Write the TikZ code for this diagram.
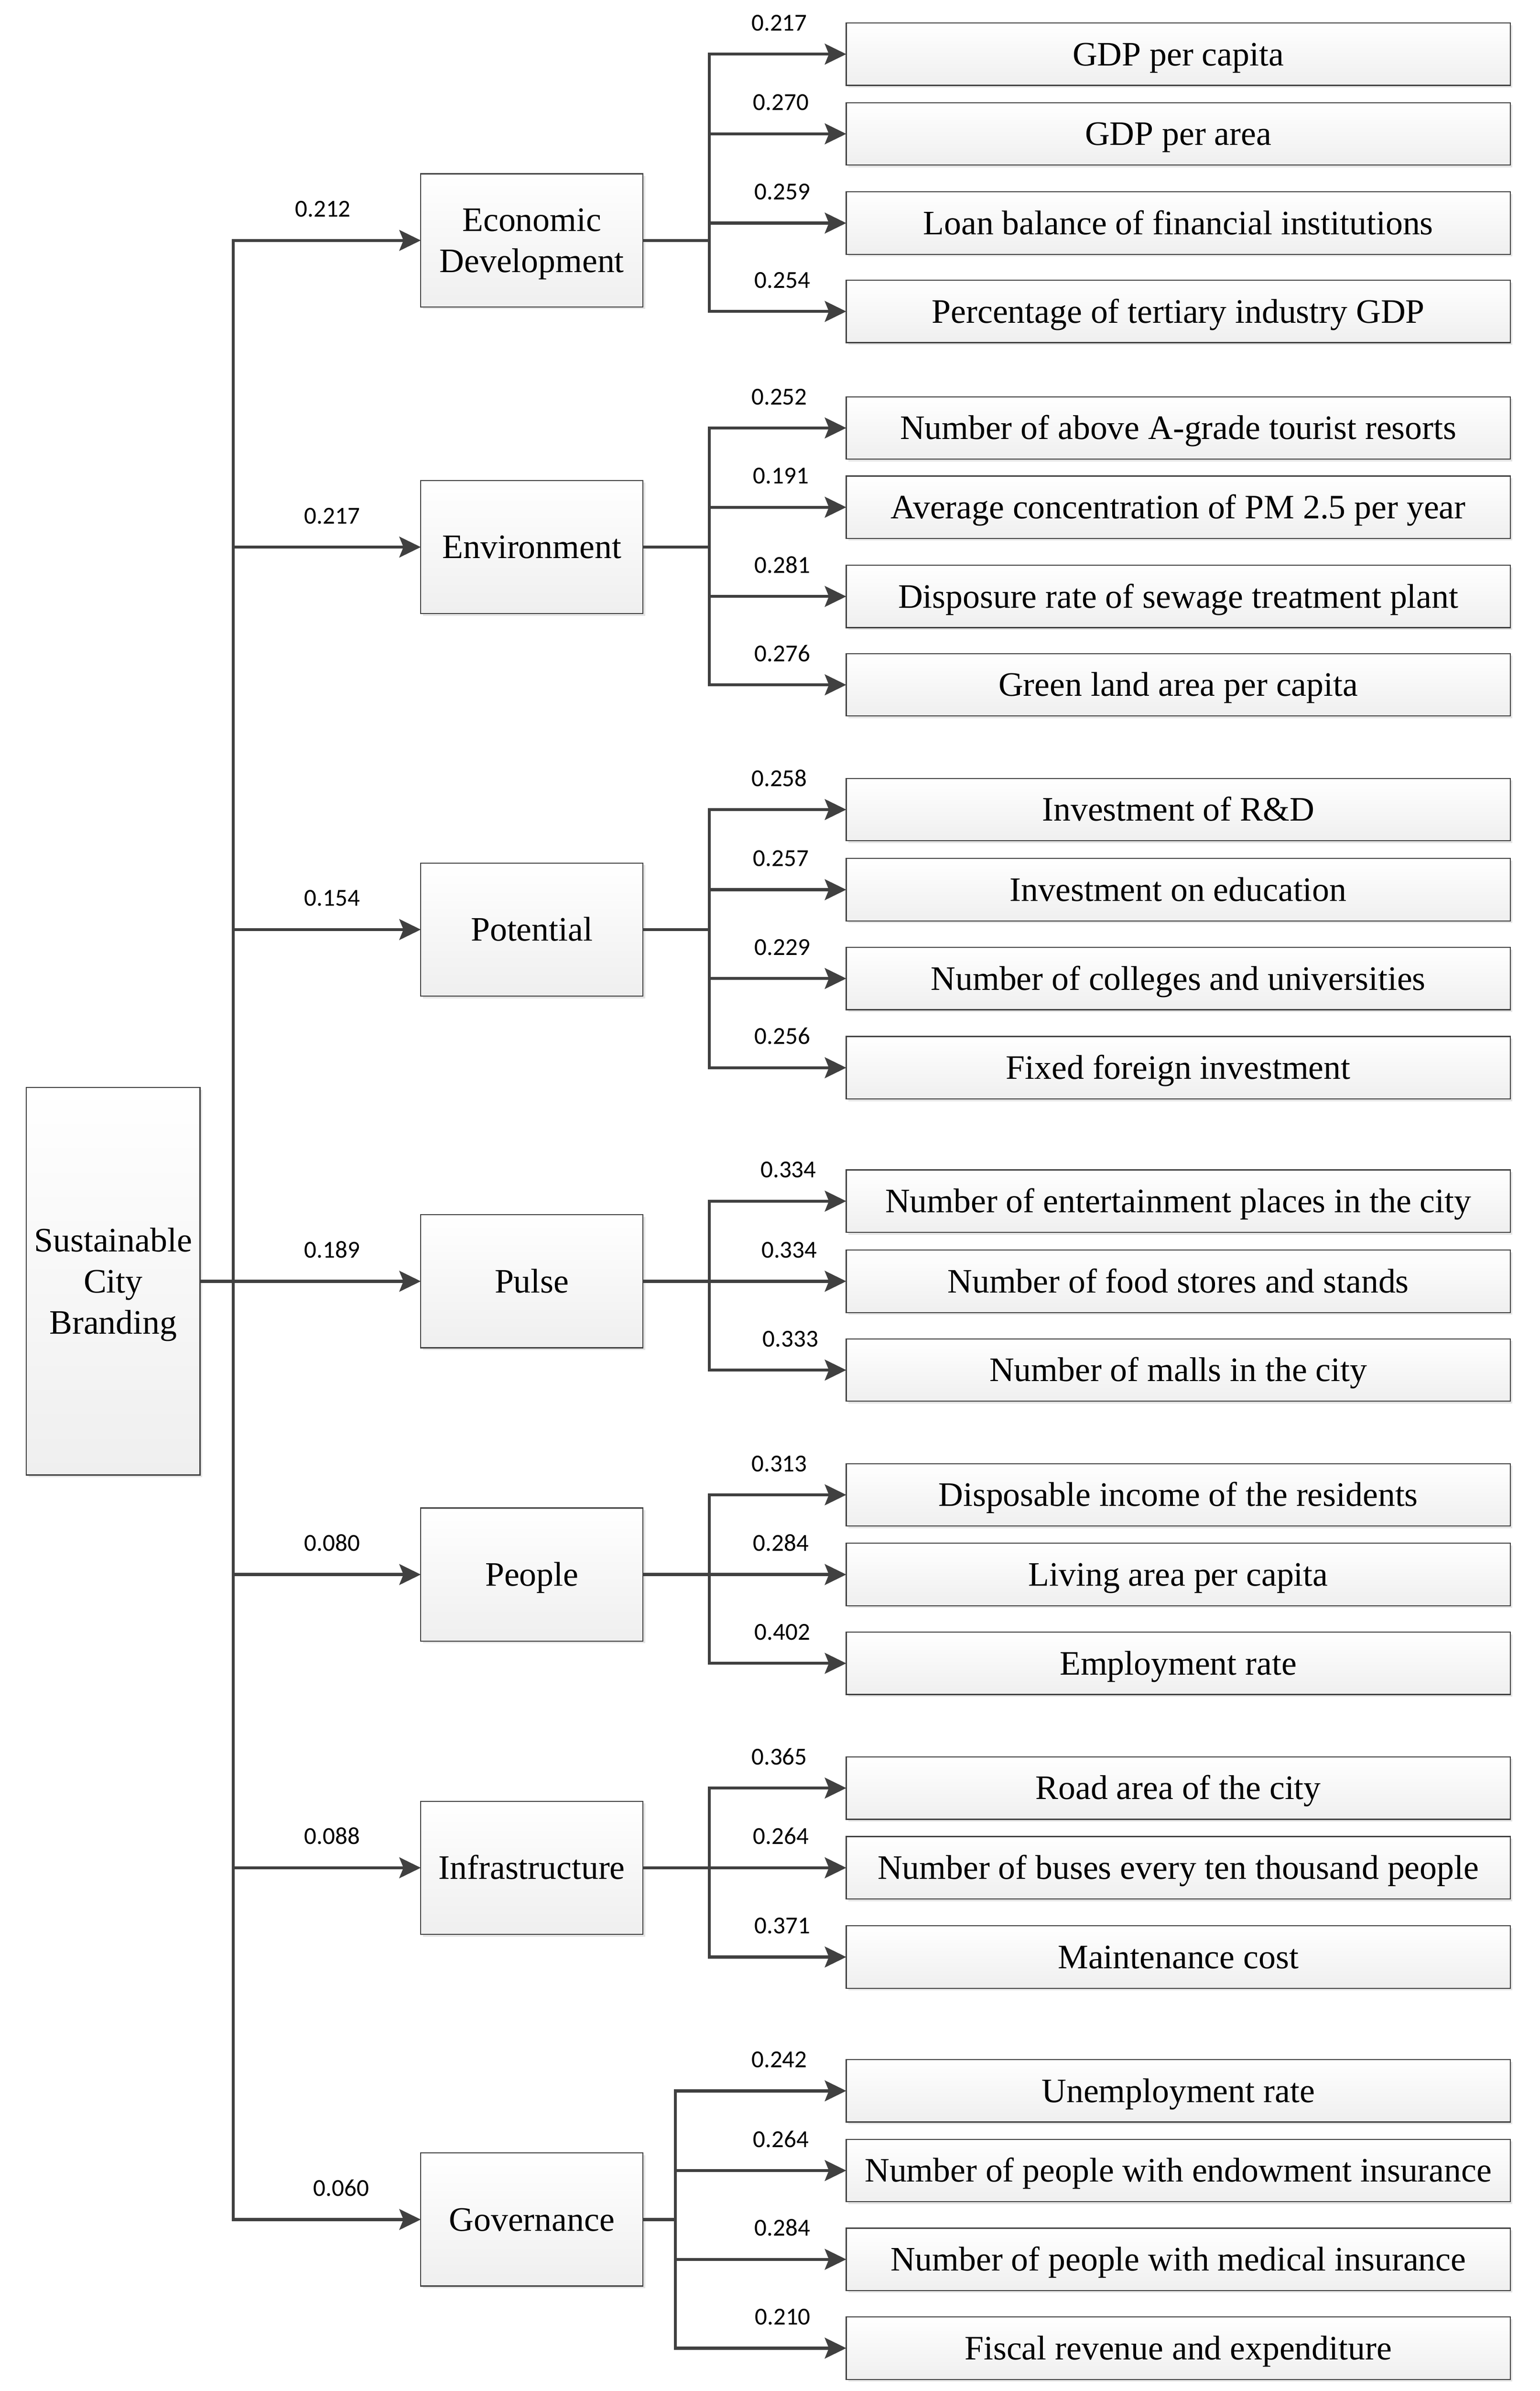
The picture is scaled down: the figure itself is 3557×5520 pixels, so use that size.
\documentclass[tikz,border=0pt]{standalone}
\usepackage{fontspec}
\setmainfont{Liberation Serif}
\newfontfamily\numfont{Carlito}
\usetikzlibrary{arrows.meta,shadows}
\definecolor{ln}{HTML}{404040}
\definecolor{boxbot}{HTML}{EFEFEF}
\definecolor{shd}{HTML}{E4E4E4}
\newcommand\boxfont{\fontsize{22.5}{27}\selectfont}
\tikzset{
  box/.style={draw=ln, line width=0.025cm, top color=white, bottom color=boxbot,
    inner sep=0pt, outer sep=0pt, text height=0.525cm, text depth=0pt, font=\boxfont,
    drop shadow={shadow xshift=0.05cm, shadow yshift=-0.05cm, fill=shd, opacity=1}},
  midbox/.style={box, minimum width=5.13cm, minimum height=3.07cm},
  leafbox/.style={box, minimum width=15.33cm, minimum height=1.44cm},
  wt/.style={font=\numfont\fontsize{16}{19}\selectfont, anchor=base, inner sep=0pt},
  conn/.style={draw=ln, line width=0.07cm},
  arr/.style={conn, -{Stealth[length=0.5cm, width=0.49cm, inset=0.1cm, line width=0pt]}}
}
\begin{document}
\begin{tikzpicture}[x=0.01cm, y=-0.01cm]
\useasboundingbox (0,0) rectangle (3557,5520);

% root
\node[box, minimum width=4.01cm, minimum height=8.94cm, align=center, text height=2.43cm] (root) at (261.5,2958) {Sustainable\\City\\Branding};

% criteria
\node[midbox, align=center, text height=1.4775cm] (m1) at (1228.5,555) {Economic\\Development};
\node[midbox] (m2) at (1228.5,1263) {Environment};
\node[midbox] (m3) at (1228.5,2146) {Potential};
\node[midbox] (m4) at (1228.5,2958) {Pulse};
\node[midbox] (m5) at (1228.5,3635) {People};
\node[midbox] (m6) at (1228.5,4312) {Infrastructure};
\node[midbox] (m7) at (1228.5,5124) {Governance};

% indicators
\node[leafbox] (l11) at (2721.5,125) {GDP per capita};
\node[leafbox] (l12) at (2721.5,309) {GDP per area};
\node[leafbox] (l13) at (2721.5,515) {Loan balance of financial institutions};
\node[leafbox] (l14) at (2721.5,719) {Percentage of tertiary industry GDP};

\node[leafbox] (l21) at (2721.5,988) {Number of above A-grade tourist resorts};
\node[leafbox] (l22) at (2721.5,1171) {Average concentration of PM 2.5 per year};
\node[leafbox] (l23) at (2721.5,1377) {Disposure rate of sewage treatment plant};
\node[leafbox] (l24) at (2721.5,1581) {Green land area per capita};

\node[leafbox] (l31) at (2721.5,1869) {Investment of R\&D};
\node[leafbox] (l32) at (2721.5,2054) {Investment on education};
\node[leafbox] (l33) at (2721.5,2259) {Number of colleges and universities};
\node[leafbox] (l34) at (2721.5,2465) {Fixed foreign investment};

\node[leafbox] (l41) at (2721.5,2773) {Number of entertainment places in the city};
\node[leafbox] (l42) at (2721.5,2958) {Number of food stores and stands};
\node[leafbox] (l43) at (2721.5,3163) {Number of malls in the city};

\node[leafbox] (l51) at (2721.5,3451) {Disposable income of the residents};
\node[leafbox] (l52) at (2721.5,3635) {Living area per capita};
\node[leafbox] (l53) at (2721.5,3840) {Employment rate};

\node[leafbox] (l61) at (2721.5,4128) {Road area of the city};
\node[leafbox] (l62) at (2721.5,4312) {Number of buses every ten thousand people};
\node[leafbox] (l63) at (2721.5,4518) {Maintenance cost};

\node[leafbox] (l71) at (2721.5,4827) {Unemployment rate};
\node[leafbox] (l72) at (2721.5,5011) {Number of people with endowment insurance};
\node[leafbox] (l73) at (2721.5,5216) {Number of people with medical insurance};
\node[leafbox] (l74) at (2721.5,5421) {Fiscal revenue and expenditure};

% junctions
\coordinate (rj) at (539,2958);
\coordinate (j1) at (1638,555);
\coordinate (j2) at (1638,1263);
\coordinate (j3) at (1638,2146);
\coordinate (j4) at (1638,2958);
\coordinate (j5) at (1638,3635);
\coordinate (j6) at (1638,4312);
\coordinate (j7) at (1560,5124);

% root connectors
\draw[conn] (root.east) -- (rj);
\foreach \m in {m1,m2,m3,m4,m5,m6,m7} \draw[arr] (rj) |- (\m.west);

% criteria connectors
\draw[conn] (m1.east) -- (j1);
\foreach \l in {l11,l12,l13,l14} \draw[arr] (j1) |- (\l.west);
\draw[conn] (m2.east) -- (j2);
\foreach \l in {l21,l22,l23,l24} \draw[arr] (j2) |- (\l.west);
\draw[conn] (m3.east) -- (j3);
\foreach \l in {l31,l32,l33,l34} \draw[arr] (j3) |- (\l.west);
\draw[conn] (m4.east) -- (j4);
\foreach \l in {l41,l42,l43} \draw[arr] (j4) |- (\l.west);
\draw[conn] (m5.east) -- (j5);
\foreach \l in {l51,l52,l53} \draw[arr] (j5) |- (\l.west);
\draw[conn] (m6.east) -- (j6);
\foreach \l in {l61,l62,l63} \draw[arr] (j6) |- (\l.west);
\draw[conn] (m7.east) -- (j7);
\foreach \l in {l71,l72,l73,l74} \draw[arr] (j7) |- (\l.west);

% criteria weights
\node[wt] (w1) at (746,501) {0.212};
\node[wt] (w2) at (767,1209) {0.217};
\node[wt] (w3) at (767,2092) {0.154};
\node[wt] (w4) at (767,2904) {0.189};
\node[wt] (w5) at (767,3581) {0.080};
\node[wt] (w6) at (767,4258) {0.088};
\node[wt] (w7) at (788,5070) {0.060};

% indicator weights
\node[wt] (w11) at (1800,71) {0.217};
\node[wt] (w12) at (1804,255) {0.270};
\node[wt] (w13) at (1807,461) {0.259};
\node[wt] (w14) at (1807,665) {0.254};

\node[wt] (w21) at (1800,934) {0.252};
\node[wt] (w22) at (1804,1117) {0.191};
\node[wt] (w23) at (1807,1323) {0.281};
\node[wt] (w24) at (1807,1527) {0.276};

\node[wt] (w31) at (1800,1815) {0.258};
\node[wt] (w32) at (1804,2000) {0.257};
\node[wt] (w33) at (1807,2205) {0.229};
\node[wt] (w34) at (1807,2411) {0.256};

\node[wt] (w41) at (1821,2719) {0.334};
\node[wt] (w42) at (1823,2904) {0.334};
\node[wt] (w43) at (1826,3109) {0.333};

\node[wt] (w51) at (1800,3397) {0.313};
\node[wt] (w52) at (1804,3581) {0.284};
\node[wt] (w53) at (1807,3786) {0.402};

\node[wt] (w61) at (1800,4074) {0.365};
\node[wt] (w62) at (1804,4258) {0.264};
\node[wt] (w63) at (1807,4464) {0.371};

\node[wt] (w71) at (1800,4773) {0.242};
\node[wt] (w72) at (1804,4957) {0.264};
\node[wt] (w73) at (1807,5162) {0.284};
\node[wt] (w74) at (1808,5367) {0.210};
\end{tikzpicture}
\end{document}
